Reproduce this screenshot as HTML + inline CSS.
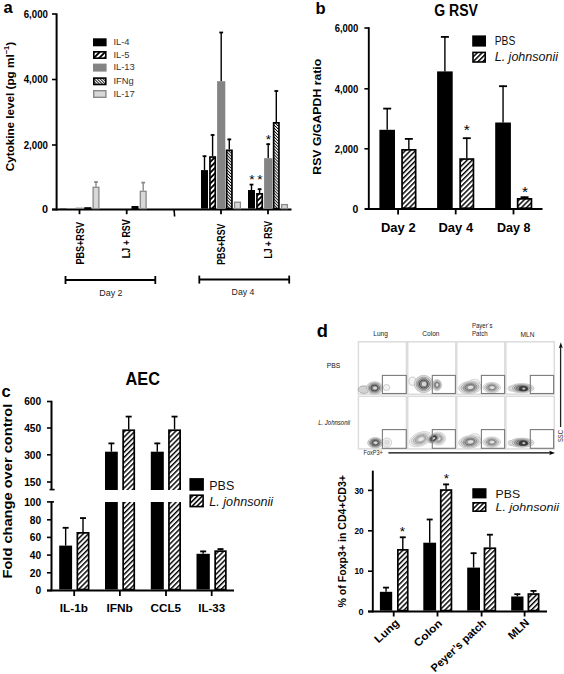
<!DOCTYPE html>
<html><head><meta charset="utf-8"><style>
html,body{margin:0;padding:0;background:#fff;width:564px;height:674px;overflow:hidden;position:relative;}
text{font-family:"Liberation Sans", sans-serif;}
</style></head><body>
<svg width="564" height="674" viewBox="0 0 564 674" style="position:absolute;left:0;top:0">
<defs>
<pattern id="hB" patternUnits="userSpaceOnUse" width="3.6" height="3.6" patternTransform="rotate(45)"><rect width="3.6" height="3.6" fill="#fff"/><rect x="0" y="0" width="1.45" height="3.6" fill="#000"/></pattern>
<pattern id="hA" patternUnits="userSpaceOnUse" width="3.8" height="3.8" patternTransform="rotate(45)"><rect width="3.8" height="3.8" fill="#fff"/><rect x="0" y="0" width="1.9" height="3.8" fill="#000"/></pattern>
<pattern id="hD" patternUnits="userSpaceOnUse" width="2.1" height="2.1" patternTransform="rotate(-45)"><rect width="2.1" height="2.1" fill="#fff"/><rect x="0" y="0" width="0.85" height="2.1" fill="#000"/></pattern>
<pattern id="hL" patternUnits="userSpaceOnUse" width="3.4" height="3.4" patternTransform="rotate(45)"><rect width="3.4" height="3.4" fill="#fff"/><rect x="0" y="0" width="1.5" height="3.4" fill="#000"/></pattern>
<filter id="bl" x="-20%" y="-20%" width="140%" height="140%"><feGaussianBlur stdDeviation="0.55"/></filter>
</defs>
<g font-family='"Liberation Sans", sans-serif'>
<text x="3.6" y="13.2" font-size="16.5" font-weight="bold" text-anchor="start" fill="#000" >a</text>
<line x1="56.6" y1="13.4" x2="56.6" y2="210.5" stroke="#000" stroke-width="2" />
<line x1="52" y1="14" x2="56.6" y2="14" stroke="#000" stroke-width="1.6" />
<text x="47.9" y="17.6" font-size="10.8" font-weight="bold" text-anchor="end" fill="#000" textLength="24.2" lengthAdjust="spacingAndGlyphs" >6,000</text>
<line x1="52" y1="79.5" x2="56.6" y2="79.5" stroke="#000" stroke-width="1.6" />
<text x="47.9" y="83.1" font-size="10.8" font-weight="bold" text-anchor="end" fill="#000" textLength="24.2" lengthAdjust="spacingAndGlyphs" >4,000</text>
<line x1="52" y1="145" x2="56.6" y2="145" stroke="#000" stroke-width="1.6" />
<text x="47.9" y="148.6" font-size="10.8" font-weight="bold" text-anchor="end" fill="#000" textLength="24.2" lengthAdjust="spacingAndGlyphs" >2,000</text>
<line x1="52" y1="209.5" x2="56.6" y2="209.5" stroke="#000" stroke-width="1.6" />
<text x="47.9" y="213.1" font-size="10.8" font-weight="bold" text-anchor="end" fill="#000" >0</text>
<text x="0" y="0" font-size="11.6" font-weight="bold" text-anchor="start" fill="#000" textLength="129.5" lengthAdjust="spacingAndGlyphs" transform="translate(13.8,171.3) rotate(-90)" >Cytokine level (pg ml<tspan font-size="7.5" dy="-4.5">−1</tspan><tspan dy="4.5">)</tspan></text>
<line x1="52" y1="209.6" x2="291.5" y2="209.6" stroke="#000" stroke-width="2" />
<rect x="59.5" y="208.3" width="7.0" height="0.29999999999998295" fill="#000" stroke="none" stroke-width="0" />
<rect x="75.6" y="207.6" width="8.200000000000003" height="1.0" fill="#848484" stroke="none" stroke-width="0" />
<rect x="85.14999999999999" y="208.04999999999998" width="5.3" height="0.5500000000000057" fill="url(#hD)" stroke="#000" stroke-width="1.7" />
<line x1="96.0" y1="186.7" x2="96.0" y2="181.5" stroke="#8a8a8a" stroke-width="1.4" />
<line x1="94.1" y1="182.1" x2="97.9" y2="182.1" stroke="#8a8a8a" stroke-width="1.8" />
<rect x="93.1" y="187.29999999999998" width="5.8" height="21.300000000000004" fill="#d8d8d8" stroke="#8a8a8a" stroke-width="1.3" />
<rect x="132.35" y="206.85" width="5.3" height="1.7499999999999942" fill="url(#hD)" stroke="#000" stroke-width="1.7" />
<line x1="143.2" y1="190.7" x2="143.2" y2="182.0" stroke="#8a8a8a" stroke-width="1.4" />
<line x1="141.29999999999998" y1="182.6" x2="145.1" y2="182.6" stroke="#8a8a8a" stroke-width="1.8" />
<rect x="140.29999999999998" y="191.29999999999998" width="5.8" height="17.300000000000004" fill="#d8d8d8" stroke="#8a8a8a" stroke-width="1.3" />
<line x1="204.5" y1="170.1" x2="204.5" y2="155.6" stroke="#000" stroke-width="1.4" />
<line x1="202.6" y1="156.2" x2="206.4" y2="156.2" stroke="#000" stroke-width="1.8" />
<rect x="201.0" y="170.1" width="7.0" height="38.5" fill="#000" stroke="none" stroke-width="0" />
<line x1="212.6" y1="156.2" x2="212.6" y2="134.4" stroke="#000" stroke-width="1.4" />
<line x1="210.7" y1="135.0" x2="214.5" y2="135.0" stroke="#000" stroke-width="1.8" />
<rect x="209.95" y="157.04999999999998" width="5.3" height="51.550000000000004" fill="url(#hA)" stroke="#000" stroke-width="1.7" />
<line x1="221.2" y1="81.2" x2="221.2" y2="31.9" stroke="#000" stroke-width="1.4" />
<line x1="219.29999999999998" y1="32.5" x2="223.1" y2="32.5" stroke="#000" stroke-width="1.8" />
<rect x="217.1" y="81.2" width="8.200000000000017" height="127.39999999999999" fill="#848484" stroke="none" stroke-width="0" />
<line x1="229.3" y1="149.5" x2="229.3" y2="138.8" stroke="#000" stroke-width="1.4" />
<line x1="227.4" y1="139.4" x2="231.20000000000002" y2="139.4" stroke="#000" stroke-width="1.8" />
<rect x="226.65" y="150.35" width="5.3" height="58.24999999999999" fill="url(#hD)" stroke="#000" stroke-width="1.7" />
<rect x="234.6" y="202.2" width="5.8" height="6.4" fill="#d8d8d8" stroke="#8a8a8a" stroke-width="1.3" />
<line x1="251.5" y1="190.0" x2="251.5" y2="184.0" stroke="#000" stroke-width="1.4" />
<line x1="249.6" y1="184.6" x2="253.4" y2="184.6" stroke="#000" stroke-width="1.8" />
<rect x="248.0" y="190.0" width="7.0" height="18.599999999999994" fill="#000" stroke="none" stroke-width="0" />
<line x1="259.6" y1="193.0" x2="259.6" y2="188.6" stroke="#000" stroke-width="1.4" />
<line x1="257.70000000000005" y1="189.2" x2="261.5" y2="189.2" stroke="#000" stroke-width="1.8" />
<rect x="256.95000000000005" y="193.85" width="5.3" height="14.749999999999995" fill="url(#hA)" stroke="#000" stroke-width="1.7" />
<line x1="268.20000000000005" y1="158.2" x2="268.20000000000005" y2="143.6" stroke="#000" stroke-width="1.4" />
<line x1="266.30000000000007" y1="144.2" x2="270.1" y2="144.2" stroke="#000" stroke-width="1.8" />
<rect x="264.1" y="158.2" width="8.199999999999989" height="50.400000000000006" fill="#848484" stroke="none" stroke-width="0" />
<line x1="276.3" y1="122.0" x2="276.3" y2="90.4" stroke="#000" stroke-width="1.4" />
<line x1="274.40000000000003" y1="91.00000000000001" x2="278.2" y2="91.00000000000001" stroke="#000" stroke-width="1.8" />
<rect x="273.65000000000003" y="122.85" width="5.3" height="85.75" fill="url(#hD)" stroke="#000" stroke-width="1.7" />
<rect x="281.6" y="204.6" width="5.8" height="3.9999999999999942" fill="#d8d8d8" stroke="#8a8a8a" stroke-width="1.3" />
<text x="251.8" y="184.26" font-size="13.5" font-weight="normal" text-anchor="middle" fill="#000" >*</text>
<text x="259.9" y="184.26" font-size="13.5" font-weight="normal" text-anchor="middle" fill="#000" >*</text>
<text x="268.5" y="143.86" font-size="13.5" font-weight="normal" text-anchor="middle" fill="#000" >*</text>
<line x1="79.5" y1="209.6" x2="79.5" y2="214.2" stroke="#000" stroke-width="1.8" />
<line x1="126.7" y1="209.6" x2="126.7" y2="214.2" stroke="#000" stroke-width="1.8" />
<line x1="221" y1="209.6" x2="221" y2="214.2" stroke="#000" stroke-width="1.8" />
<line x1="268" y1="209.6" x2="268" y2="214.2" stroke="#000" stroke-width="1.8" />
<line x1="174.1" y1="209.6" x2="174.6" y2="216.5" stroke="#000" stroke-width="1.6" />
<text x="0" y="0" font-size="10.8" font-weight="bold" text-anchor="end" fill="#000" textLength="42.6" lengthAdjust="spacingAndGlyphs" transform="translate(83.6,222) rotate(-90)" >PBS+RSV</text>
<text x="0" y="0" font-size="10.8" font-weight="bold" text-anchor="end" fill="#000" textLength="39" lengthAdjust="spacingAndGlyphs" transform="translate(130.4,219.2) rotate(-90)" >LJ + RSV</text>
<text x="0" y="0" font-size="10.8" font-weight="bold" text-anchor="end" fill="#000" textLength="41.2" lengthAdjust="spacingAndGlyphs" transform="translate(225.2,223.6) rotate(-90)" >PBS+RSV</text>
<text x="0" y="0" font-size="10.8" font-weight="bold" text-anchor="end" fill="#000" textLength="37.6" lengthAdjust="spacingAndGlyphs" transform="translate(271.9,221) rotate(-90)" >LJ + RSV</text>
<line x1="65.5" y1="280" x2="155.3" y2="280" stroke="#000" stroke-width="2" />
<line x1="65.5" y1="276" x2="65.5" y2="284" stroke="#000" stroke-width="1.8" />
<line x1="155.3" y1="276" x2="155.3" y2="284" stroke="#000" stroke-width="1.8" />
<line x1="199.3" y1="279.6" x2="289.2" y2="279.6" stroke="#000" stroke-width="2" />
<line x1="199.3" y1="275.6" x2="199.3" y2="283.6" stroke="#000" stroke-width="1.8" />
<line x1="289.2" y1="275.6" x2="289.2" y2="283.6" stroke="#000" stroke-width="1.8" />
<text x="99.2" y="296" font-size="9.9" font-weight="normal" text-anchor="start" fill="#222" textLength="23.4" lengthAdjust="spacingAndGlyphs" >Day 2</text>
<text x="231.6" y="295" font-size="9.9" font-weight="normal" text-anchor="start" fill="#222" textLength="22.8" lengthAdjust="spacingAndGlyphs" >Day 4</text>
<rect x="93" y="38.3" width="13.6" height="8" fill="#000" stroke="none" stroke-width="0" />
<text x="113.4" y="45.099999999999994" font-size="9.4" font-weight="normal" text-anchor="start" fill="#333" >IL-4</text>
<rect x="93.8" y="51.8" width="12" height="6.4" fill="url(#hA)" stroke="#000" stroke-width="1.6" />
<text x="113.4" y="57.8" font-size="9.4" font-weight="normal" text-anchor="start" fill="#333" >IL-5</text>
<rect x="93" y="63.6" width="13.6" height="8" fill="#848484" stroke="none" stroke-width="0" />
<text x="113.4" y="70.4" font-size="9.4" font-weight="normal" text-anchor="start" fill="#333" >IL-13</text>
<rect x="93.8" y="78.1" width="12" height="6.4" fill="url(#hD)" stroke="#000" stroke-width="1.6" />
<text x="113.4" y="84.1" font-size="9.4" font-weight="normal" text-anchor="start" fill="#333" >IFNg</text>
<rect x="93.7" y="90.7" width="12.2" height="6.6" fill="#d8d8d8" stroke="#8a8a8a" stroke-width="1.4" />
<text x="113.4" y="96.8" font-size="9.4" font-weight="normal" text-anchor="start" fill="#333" >IL-17</text>
<text x="315.4" y="13.8" font-size="16.5" font-weight="bold" text-anchor="start" fill="#000" >b</text>
<text x="434.2" y="15.9" font-size="16" font-weight="bold" text-anchor="start" fill="#000" textLength="43.7" lengthAdjust="spacingAndGlyphs" >G RSV</text>
<line x1="368.8" y1="27.2" x2="368.8" y2="210" stroke="#000" stroke-width="1.9" />
<line x1="364.4" y1="28" x2="368.8" y2="28" stroke="#000" stroke-width="1.6" />
<text x="358.4" y="31.8" font-size="10.4" font-weight="bold" text-anchor="end" fill="#000" textLength="23.7" lengthAdjust="spacingAndGlyphs" >6,000</text>
<line x1="364.4" y1="88.8" x2="368.8" y2="88.8" stroke="#000" stroke-width="1.6" />
<text x="358.4" y="92.6" font-size="10.4" font-weight="bold" text-anchor="end" fill="#000" textLength="23.7" lengthAdjust="spacingAndGlyphs" >4,000</text>
<line x1="364.4" y1="148.8" x2="368.8" y2="148.8" stroke="#000" stroke-width="1.6" />
<text x="358.4" y="152.60000000000002" font-size="10.4" font-weight="bold" text-anchor="end" fill="#000" textLength="23.7" lengthAdjust="spacingAndGlyphs" >2,000</text>
<line x1="364.4" y1="209" x2="368.8" y2="209" stroke="#000" stroke-width="1.6" />
<text x="358.4" y="212.8" font-size="10.4" font-weight="bold" text-anchor="end" fill="#000" >0</text>
<text x="0" y="0" font-size="11.2" font-weight="bold" text-anchor="start" fill="#000" textLength="116" lengthAdjust="spacingAndGlyphs" transform="translate(321.3,174.7) rotate(-90)" >RSV G/GAPDH ratio</text>
<line x1="365" y1="209" x2="542.5" y2="209" stroke="#000" stroke-width="2" />
<line x1="398.1" y1="209" x2="398.1" y2="214.4" stroke="#000" stroke-width="1.8" />
<line x1="455.7" y1="209" x2="455.7" y2="214.4" stroke="#000" stroke-width="1.8" />
<line x1="513.5" y1="209" x2="513.5" y2="214.4" stroke="#000" stroke-width="1.8" />
<line x1="387.2" y1="129.8" x2="387.2" y2="108.0" stroke="#000" stroke-width="1.4" />
<line x1="383.2" y1="108.60000000000001" x2="391.2" y2="108.60000000000001" stroke="#000" stroke-width="1.8" />
<rect x="379.4" y="129.8" width="15.600000000000023" height="78.39999999999998" fill="#000" stroke="none" stroke-width="0" />
<line x1="408.85" y1="149.0" x2="408.85" y2="138.3" stroke="#000" stroke-width="1.4" />
<line x1="404.85" y1="138.9" x2="412.85" y2="138.9" stroke="#000" stroke-width="1.8" />
<rect x="402.05" y="149.85" width="13.600000000000012" height="58.34999999999999" fill="url(#hB)" stroke="#000" stroke-width="1.7" />
<line x1="444.9" y1="71.4" x2="444.9" y2="36.3" stroke="#000" stroke-width="1.4" />
<line x1="440.9" y1="36.9" x2="448.9" y2="36.9" stroke="#000" stroke-width="1.8" />
<rect x="437.1" y="71.4" width="15.599999999999966" height="136.79999999999998" fill="#000" stroke="none" stroke-width="0" />
<line x1="466.8" y1="158.2" x2="466.8" y2="137.6" stroke="#000" stroke-width="1.4" />
<line x1="462.8" y1="138.2" x2="470.8" y2="138.2" stroke="#000" stroke-width="1.8" />
<rect x="460.15000000000003" y="159.04999999999998" width="13.3" height="49.15" fill="url(#hB)" stroke="#000" stroke-width="1.7" />
<line x1="503.04999999999995" y1="122.5" x2="503.04999999999995" y2="85.6" stroke="#000" stroke-width="1.4" />
<line x1="499.04999999999995" y1="86.2" x2="507.04999999999995" y2="86.2" stroke="#000" stroke-width="1.8" />
<rect x="495.2" y="122.5" width="15.699999999999989" height="85.69999999999999" fill="#000" stroke="none" stroke-width="0" />
<line x1="524.55" y1="198.0" x2="524.55" y2="196.6" stroke="#000" stroke-width="1.4" />
<line x1="520.55" y1="197.2" x2="528.55" y2="197.2" stroke="#000" stroke-width="1.8" />
<rect x="517.65" y="198.85" width="13.8" height="9.349999999999989" fill="url(#hB)" stroke="#000" stroke-width="1.7" />
<text x="466.8" y="134.57" font-size="15.5" font-weight="normal" text-anchor="middle" fill="#000" >*</text>
<text x="525.1" y="196.57" font-size="15.5" font-weight="normal" text-anchor="middle" fill="#000" >*</text>
<text x="381.0" y="232.3" font-size="13.4" font-weight="bold" text-anchor="start" fill="#000" textLength="34.6" lengthAdjust="spacingAndGlyphs" >Day 2</text>
<text x="438.5" y="232.3" font-size="13.4" font-weight="bold" text-anchor="start" fill="#000" textLength="34.6" lengthAdjust="spacingAndGlyphs" >Day 4</text>
<text x="497.0" y="232.3" font-size="13.4" font-weight="bold" text-anchor="start" fill="#000" textLength="33.4" lengthAdjust="spacingAndGlyphs" >Day 8</text>
<rect x="472.2" y="35.4" width="13.8" height="11.2" fill="#000" stroke="none" stroke-width="0" />
<rect x="473.0" y="52.4" width="12.2" height="9.6" fill="url(#hL)" stroke="#000" stroke-width="1.6" />
<text x="494.7" y="45.4" font-size="12" font-weight="normal" text-anchor="start" fill="#111" textLength="20.6" lengthAdjust="spacingAndGlyphs" >PBS</text>
<text x="494.7" y="61.0" font-size="12" font-weight="normal" text-anchor="start" fill="#111" font-style="italic" textLength="63.3" lengthAdjust="spacingAndGlyphs" >L. johnsonii</text>
<text x="1.5" y="396.6" font-size="16.5" font-weight="bold" text-anchor="start" fill="#000" >c</text>
<text x="125.5" y="385.2" font-size="18" font-weight="bold" text-anchor="start" fill="#000" textLength="34.4" lengthAdjust="spacingAndGlyphs" >AEC</text>
<line x1="51.5" y1="400.8" x2="51.5" y2="490.0" stroke="#000" stroke-width="2" />
<line x1="49.6" y1="489.6" x2="54.6" y2="489.6" stroke="#000" stroke-width="1.6" />
<line x1="51.5" y1="501.2" x2="51.5" y2="591.2" stroke="#000" stroke-width="2" />
<line x1="47" y1="501.9" x2="54" y2="501.9" stroke="#000" stroke-width="1.6" />
<line x1="47" y1="401.5" x2="51.5" y2="401.5" stroke="#000" stroke-width="1.6" />
<text x="41.2" y="405.2" font-size="10.2" font-weight="bold" text-anchor="end" fill="#000" >600</text>
<line x1="47" y1="428" x2="51.5" y2="428" stroke="#000" stroke-width="1.6" />
<text x="41.2" y="431.7" font-size="10.2" font-weight="bold" text-anchor="end" fill="#000" >450</text>
<line x1="47" y1="454.8" x2="51.5" y2="454.8" stroke="#000" stroke-width="1.6" />
<text x="41.2" y="458.5" font-size="10.2" font-weight="bold" text-anchor="end" fill="#000" >300</text>
<line x1="47" y1="482" x2="51.5" y2="482" stroke="#000" stroke-width="1.6" />
<text x="41.2" y="485.7" font-size="10.2" font-weight="bold" text-anchor="end" fill="#000" >150</text>
<text x="41.2" y="505.59999999999997" font-size="10.2" font-weight="bold" text-anchor="end" fill="#000" >100</text>
<line x1="47" y1="519.8" x2="51.5" y2="519.8" stroke="#000" stroke-width="1.6" />
<text x="41.2" y="523.5" font-size="10.2" font-weight="bold" text-anchor="end" fill="#000" >80</text>
<line x1="47" y1="537.4" x2="51.5" y2="537.4" stroke="#000" stroke-width="1.6" />
<text x="41.2" y="541.1" font-size="10.2" font-weight="bold" text-anchor="end" fill="#000" >60</text>
<line x1="47" y1="555.1" x2="51.5" y2="555.1" stroke="#000" stroke-width="1.6" />
<text x="41.2" y="558.8000000000001" font-size="10.2" font-weight="bold" text-anchor="end" fill="#000" >40</text>
<line x1="47" y1="572.8" x2="51.5" y2="572.8" stroke="#000" stroke-width="1.6" />
<text x="41.2" y="576.5" font-size="10.2" font-weight="bold" text-anchor="end" fill="#000" >20</text>
<line x1="47" y1="590.5" x2="51.5" y2="590.5" stroke="#000" stroke-width="1.6" />
<text x="41.2" y="594.2" font-size="10.2" font-weight="bold" text-anchor="end" fill="#000" >0</text>
<text x="0" y="0" font-size="12.2" font-weight="bold" text-anchor="start" fill="#000" textLength="174.7" lengthAdjust="spacingAndGlyphs" transform="translate(12.3,578.5) rotate(-90)" >Fold change over control</text>
<line x1="47" y1="590.4" x2="234" y2="590.4" stroke="#000" stroke-width="2" />
<line x1="74.2" y1="590.4" x2="74.2" y2="596" stroke="#000" stroke-width="1.8" />
<line x1="119.9" y1="590.4" x2="119.9" y2="596" stroke="#000" stroke-width="1.8" />
<line x1="166.0" y1="590.4" x2="166.0" y2="596" stroke="#000" stroke-width="1.8" />
<line x1="211.7" y1="590.4" x2="211.7" y2="596" stroke="#000" stroke-width="1.8" />
<line x1="65.65" y1="545.6" x2="65.65" y2="527.2" stroke="#000" stroke-width="1.4" />
<line x1="62.650000000000006" y1="527.8000000000001" x2="68.65" y2="527.8000000000001" stroke="#000" stroke-width="1.8" />
<rect x="59.2" y="545.6" width="12.899999999999991" height="43.89999999999998" fill="#000" stroke="none" stroke-width="0" />
<line x1="83.0" y1="532.0" x2="83.0" y2="517.5" stroke="#000" stroke-width="1.4" />
<line x1="80.0" y1="518.1" x2="86.0" y2="518.1" stroke="#000" stroke-width="1.8" />
<rect x="77.35" y="532.85" width="11.3" height="56.65" fill="url(#hB)" stroke="#000" stroke-width="1.7" />
<line x1="111.4" y1="451.7" x2="111.4" y2="442.8" stroke="#000" stroke-width="1.4" />
<line x1="108.4" y1="443.4" x2="114.4" y2="443.4" stroke="#000" stroke-width="1.8" />
<rect x="105.0" y="451.7" width="12.799999999999997" height="137.8" fill="#000" stroke="none" stroke-width="0" />
<rect x="104.0" y="490.0" width="14.799999999999997" height="12.0" fill="#fff" stroke="none" stroke-width="0" />
<line x1="128.7" y1="429.4" x2="128.7" y2="416.0" stroke="#000" stroke-width="1.4" />
<line x1="125.69999999999999" y1="416.59999999999997" x2="131.7" y2="416.59999999999997" stroke="#000" stroke-width="1.8" />
<rect x="123.14999999999999" y="430.25" width="11.099999999999998" height="159.25000000000003" fill="url(#hB)" stroke="#000" stroke-width="1.7" />
<rect x="121.3" y="490.0" width="14.799999999999997" height="12.0" fill="#fff" stroke="none" stroke-width="0" />
<line x1="157.3" y1="451.7" x2="157.3" y2="442.8" stroke="#000" stroke-width="1.4" />
<line x1="154.3" y1="443.4" x2="160.3" y2="443.4" stroke="#000" stroke-width="1.8" />
<rect x="150.8" y="451.7" width="13.0" height="137.8" fill="#000" stroke="none" stroke-width="0" />
<rect x="149.8" y="490.0" width="15.0" height="12.0" fill="#fff" stroke="none" stroke-width="0" />
<line x1="174.55" y1="429.4" x2="174.55" y2="416.0" stroke="#000" stroke-width="1.4" />
<line x1="171.55" y1="416.59999999999997" x2="177.55" y2="416.59999999999997" stroke="#000" stroke-width="1.8" />
<rect x="168.95" y="430.25" width="11.200000000000006" height="159.25000000000003" fill="url(#hB)" stroke="#000" stroke-width="1.7" />
<rect x="167.1" y="490.0" width="14.900000000000006" height="12.0" fill="#fff" stroke="none" stroke-width="0" />
<line x1="203.15" y1="553.8" x2="203.15" y2="550.8" stroke="#000" stroke-width="1.4" />
<line x1="200.15" y1="551.4" x2="206.15" y2="551.4" stroke="#000" stroke-width="1.8" />
<rect x="196.5" y="553.8" width="13.300000000000011" height="35.700000000000045" fill="#000" stroke="none" stroke-width="0" />
<line x1="220.5" y1="550.3" x2="220.5" y2="548.5" stroke="#000" stroke-width="1.4" />
<line x1="217.5" y1="549.1" x2="223.5" y2="549.1" stroke="#000" stroke-width="1.8" />
<rect x="215.15" y="551.15" width="10.699999999999978" height="38.350000000000044" fill="url(#hB)" stroke="#000" stroke-width="1.7" />
<text x="59.8" y="612.4" font-size="11.3" font-weight="bold" text-anchor="start" fill="#000" textLength="28.1" lengthAdjust="spacingAndGlyphs" >IL-1b</text>
<text x="106.4" y="612.4" font-size="11.3" font-weight="bold" text-anchor="start" fill="#000" textLength="26.4" lengthAdjust="spacingAndGlyphs" >IFNb</text>
<text x="150.6" y="612.4" font-size="11.3" font-weight="bold" text-anchor="start" fill="#000" textLength="30.5" lengthAdjust="spacingAndGlyphs" >CCL5</text>
<text x="198.2" y="612.4" font-size="11.3" font-weight="bold" text-anchor="start" fill="#000" textLength="26.9" lengthAdjust="spacingAndGlyphs" >IL-33</text>
<rect x="189.4" y="478.1" width="14.5" height="12.6" fill="#000" stroke="none" stroke-width="0" />
<rect x="190.2" y="495.2" width="12.9" height="11.4" fill="url(#hL)" stroke="#000" stroke-width="1.6" />
<text x="209.3" y="489.8" font-size="12" font-weight="normal" text-anchor="start" fill="#111" textLength="24.9" lengthAdjust="spacingAndGlyphs" >PBS</text>
<text x="209.3" y="505.8" font-size="12" font-weight="normal" text-anchor="start" fill="#111" font-style="italic" textLength="63.8" lengthAdjust="spacingAndGlyphs" >L. johnsonii</text>
<text x="316.8" y="337.2" font-size="18.3" font-weight="bold" text-anchor="start" fill="#000" >d</text>
<rect x="358.4" y="341.8" width="48.0" height="52.39999999999998" fill="#fff" stroke="#dcdcdc" stroke-width="1.5" />
<rect x="358.4" y="396.3" width="48.0" height="52.599999999999966" fill="#fff" stroke="#dcdcdc" stroke-width="1.5" />
<rect x="407.7" y="341.8" width="48.10000000000002" height="52.39999999999998" fill="#fff" stroke="#dcdcdc" stroke-width="1.5" />
<rect x="407.7" y="396.3" width="48.10000000000002" height="52.599999999999966" fill="#fff" stroke="#dcdcdc" stroke-width="1.5" />
<rect x="456.8" y="341.8" width="48.0" height="52.39999999999998" fill="#fff" stroke="#dcdcdc" stroke-width="1.5" />
<rect x="456.8" y="396.3" width="48.0" height="52.599999999999966" fill="#fff" stroke="#dcdcdc" stroke-width="1.5" />
<rect x="505.9" y="341.8" width="48.39999999999998" height="52.39999999999998" fill="#fff" stroke="#dcdcdc" stroke-width="1.5" />
<rect x="505.9" y="396.3" width="48.39999999999998" height="52.599999999999966" fill="#fff" stroke="#dcdcdc" stroke-width="1.5" />
<g filter="url(#bl)"><ellipse cx="363.8" cy="389.6" rx="5.6" ry="3.8" fill="#d2d2d2" fill-opacity="1" stroke="#9a9a9a" stroke-width="0.7"/>
<ellipse cx="386.5" cy="387.5" rx="3.2" ry="3.0" fill="#f4f4f4" fill-opacity="1" stroke="#b8b8b8" stroke-width="0.7"/>
<ellipse cx="374.6" cy="388.0" rx="8.2" ry="6.2" fill="#e1e1e1" fill-opacity="1" stroke="#aaaaaa" stroke-width="0.7"/>
<ellipse cx="374.6" cy="388.0" rx="6.56" ry="4.960000000000001" fill="#c8c8c8" fill-opacity="1" stroke="#8c8c8c" stroke-width="0.7"/>
<ellipse cx="374.6" cy="388.0" rx="5.084" ry="3.844" fill="#a5a5a5" fill-opacity="1" stroke="#646464" stroke-width="0.8"/>
<ellipse cx="374.6" cy="388.0" rx="3.69" ry="2.79" fill="#828282" fill-opacity="1" stroke="#464646" stroke-width="0.9"/>
<ellipse cx="375.01000000000005" cy="388.0" rx="1.9679999999999997" ry="1.612" fill="#d7d7d7" fill-opacity="1" stroke="none" stroke-width="0"/>
<ellipse cx="412.4" cy="381.2" rx="3.6" ry="4.2" fill="#f4f4f4" fill-opacity="1" stroke="#b8b8b8" stroke-width="0.7"/>
<ellipse cx="437" cy="385" rx="4.6" ry="5.6" fill="#e8e8e8" fill-opacity="1" stroke="#bfbfbf" stroke-width="0.7"/>
<ellipse cx="437" cy="385" rx="3.6799999999999997" ry="4.4799999999999995" fill="#d5d5d5" fill-opacity="1" stroke="#a8a8a8" stroke-width="0.7"/>
<ellipse cx="437" cy="385" rx="2.852" ry="3.472" fill="#bbbbbb" fill-opacity="1" stroke="#8a8a8a" stroke-width="0.8"/>
<ellipse cx="437" cy="385" rx="2.07" ry="2.52" fill="#a1a1a1" fill-opacity="1" stroke="#747474" stroke-width="0.9"/>
<ellipse cx="437.23" cy="385" rx="1.1039999999999999" ry="1.456" fill="#e1e1e1" fill-opacity="1" stroke="none" stroke-width="0"/>
<ellipse cx="423.6" cy="384.0" rx="9.3" ry="8.6" fill="#e1e1e1" fill-opacity="1" stroke="#aaaaaa" stroke-width="0.7"/>
<ellipse cx="423.6" cy="384.0" rx="7.440000000000001" ry="6.88" fill="#c8c8c8" fill-opacity="1" stroke="#8c8c8c" stroke-width="0.7"/>
<ellipse cx="423.6" cy="384.0" rx="5.766" ry="5.332" fill="#a5a5a5" fill-opacity="1" stroke="#646464" stroke-width="0.8"/>
<ellipse cx="423.6" cy="384.0" rx="4.1850000000000005" ry="3.87" fill="#828282" fill-opacity="1" stroke="#464646" stroke-width="0.9"/>
<ellipse cx="424.065" cy="384.0" rx="2.232" ry="2.2359999999999998" fill="#d7d7d7" fill-opacity="1" stroke="none" stroke-width="0"/>
<ellipse cx="474.5" cy="382.5" rx="5.5" ry="3.2" fill="#f4f4f4" fill-opacity="1" stroke="#c4c4c4" stroke-width="0.7"/>
<ellipse cx="470.0" cy="387.4" rx="11.4" ry="6.2" fill="#e7e7e7" fill-opacity="1" stroke="#bbbbbb" stroke-width="0.7" transform="rotate(-6,470.0,387.4)"/>
<ellipse cx="470.0" cy="387.4" rx="9.120000000000001" ry="4.960000000000001" fill="#d3d3d3" fill-opacity="1" stroke="#a3a3a3" stroke-width="0.7" transform="rotate(-6,470.0,387.4)"/>
<ellipse cx="470.0" cy="387.4" rx="7.0680000000000005" ry="3.844" fill="#b7b7b7" fill-opacity="1" stroke="#838383" stroke-width="0.8" transform="rotate(-6,470.0,387.4)"/>
<ellipse cx="470.0" cy="387.4" rx="5.13" ry="2.79" fill="#9b9b9b" fill-opacity="1" stroke="#6b6b6b" stroke-width="0.9" transform="rotate(-6,470.0,387.4)"/>
<ellipse cx="470.57" cy="387.4" rx="2.7359999999999998" ry="1.612" fill="#dfdfdf" fill-opacity="1" stroke="none" stroke-width="0" transform="rotate(-6,470.57,387.4)"/>
<ellipse cx="491.7" cy="387.6" rx="8.8" ry="5.2" fill="#eaeaea" fill-opacity="1" stroke="#c3c3c3" stroke-width="0.7"/>
<ellipse cx="491.7" cy="387.6" rx="7.040000000000001" ry="4.16" fill="#d8d8d8" fill-opacity="1" stroke="#aeaeae" stroke-width="0.7"/>
<ellipse cx="491.7" cy="387.6" rx="5.456" ry="3.224" fill="#c0c0c0" fill-opacity="1" stroke="#929292" stroke-width="0.8"/>
<ellipse cx="491.7" cy="387.6" rx="3.9600000000000004" ry="2.3400000000000003" fill="#a7a7a7" fill-opacity="1" stroke="#7d7d7d" stroke-width="0.9"/>
<ellipse cx="492.14" cy="387.6" rx="2.112" ry="1.352" fill="#e3e3e3" fill-opacity="1" stroke="none" stroke-width="0"/>
<ellipse cx="511" cy="388.5" rx="3" ry="2.6" fill="#f0f0f0" fill-opacity="1" stroke="#b4b4b4" stroke-width="0.6"/>
<ellipse cx="521.8" cy="388.2" rx="12.2" ry="4.6" fill="#e5e5e5" fill-opacity="1" stroke="#b6b6b6" stroke-width="0.7"/>
<ellipse cx="521.8" cy="388.2" rx="9.76" ry="3.6799999999999997" fill="#d0d0d0" fill-opacity="1" stroke="#9d9d9d" stroke-width="0.7"/>
<ellipse cx="521.8" cy="388.2" rx="7.563999999999999" ry="2.852" fill="#b2b2b2" fill-opacity="1" stroke="#7b7b7b" stroke-width="0.8"/>
<ellipse cx="521.8" cy="388.2" rx="5.49" ry="2.07" fill="#949494" fill-opacity="1" stroke="#616161" stroke-width="0.9"/>
<ellipse cx="522.41" cy="388.2" rx="2.928" ry="1.196" fill="#dddddd" fill-opacity="1" stroke="none" stroke-width="0"/>
<ellipse cx="523.4" cy="388.7" rx="4.6" ry="2.6" fill="#3a3a3a" fill-opacity="1" stroke="none" stroke-width="0"/>
<ellipse cx="523.8" cy="388.7" rx="1.6" ry="1.1" fill="#bbb" fill-opacity="1" stroke="none" stroke-width="0"/>
<ellipse cx="387" cy="442.5" rx="4.6" ry="4.6" fill="#f4f4f4" fill-opacity="1" stroke="#c0c0c0" stroke-width="0.7"/>
<ellipse cx="387" cy="442.5" rx="3" ry="3" fill="#dcdcdc" fill-opacity="1" stroke="none" stroke-width="0"/>
<ellipse cx="375.3" cy="442.8" rx="7.6" ry="5.2" fill="#e1e1e1" fill-opacity="1" stroke="#aaaaaa" stroke-width="0.7"/>
<ellipse cx="375.3" cy="442.8" rx="6.08" ry="4.16" fill="#c8c8c8" fill-opacity="1" stroke="#8c8c8c" stroke-width="0.7"/>
<ellipse cx="375.3" cy="442.8" rx="4.712" ry="3.224" fill="#a5a5a5" fill-opacity="1" stroke="#646464" stroke-width="0.8"/>
<ellipse cx="375.3" cy="442.8" rx="3.42" ry="2.3400000000000003" fill="#828282" fill-opacity="1" stroke="#464646" stroke-width="0.9"/>
<ellipse cx="375.68" cy="442.8" rx="1.8239999999999998" ry="1.352" fill="#d7d7d7" fill-opacity="1" stroke="none" stroke-width="0"/>
<ellipse cx="438.2" cy="438.6" rx="7.5" ry="6.6" fill="#ededed" fill-opacity="1" stroke="#cccccc" stroke-width="0.7"/>
<ellipse cx="438.2" cy="438.6" rx="6.0" ry="5.28" fill="#dedede" fill-opacity="1" stroke="#bababa" stroke-width="0.7"/>
<ellipse cx="438.2" cy="438.6" rx="4.65" ry="4.092" fill="#c9c9c9" fill-opacity="1" stroke="#a2a2a2" stroke-width="0.8"/>
<ellipse cx="438.2" cy="438.6" rx="3.375" ry="2.9699999999999998" fill="#b4b4b4" fill-opacity="1" stroke="#909090" stroke-width="0.9"/>
<ellipse cx="438.575" cy="438.6" rx="1.7999999999999998" ry="1.716" fill="#e7e7e7" fill-opacity="1" stroke="none" stroke-width="0"/>
<ellipse cx="420.5" cy="439.2" rx="11.8" ry="6.8" fill="#eeeeee" fill-opacity="1" stroke="#d0d0d0" stroke-width="0.7" transform="rotate(-22,420.5,439.2)"/>
<ellipse cx="420.5" cy="439.2" rx="9.440000000000001" ry="5.44" fill="#e0e0e0" fill-opacity="1" stroke="#bfbfbf" stroke-width="0.7" transform="rotate(-22,420.5,439.2)"/>
<ellipse cx="420.5" cy="439.2" rx="7.316000000000001" ry="4.216" fill="#cdcdcd" fill-opacity="1" stroke="#a9a9a9" stroke-width="0.8" transform="rotate(-22,420.5,439.2)"/>
<ellipse cx="420.5" cy="439.2" rx="5.3100000000000005" ry="3.06" fill="#bababa" fill-opacity="1" stroke="#999999" stroke-width="0.9" transform="rotate(-22,420.5,439.2)"/>
<ellipse cx="421.09" cy="439.2" rx="2.832" ry="1.768" fill="#e9e9e9" fill-opacity="1" stroke="none" stroke-width="0" transform="rotate(-22,421.09,439.2)"/>
<ellipse cx="433.5" cy="438.4" rx="6.2" ry="3.8" fill="#dedede" fill-opacity="1" stroke="#a1a1a1" stroke-width="0.7" transform="rotate(-30,433.5,438.4)"/>
<ellipse cx="433.5" cy="438.4" rx="4.960000000000001" ry="3.04" fill="#c2c2c2" fill-opacity="1" stroke="#808080" stroke-width="0.7" transform="rotate(-30,433.5,438.4)"/>
<ellipse cx="433.5" cy="438.4" rx="3.844" ry="2.356" fill="#9c9c9c" fill-opacity="1" stroke="#545454" stroke-width="0.8" transform="rotate(-30,433.5,438.4)"/>
<ellipse cx="433.5" cy="438.4" rx="2.79" ry="1.71" fill="#757575" fill-opacity="1" stroke="#333333" stroke-width="0.9" transform="rotate(-30,433.5,438.4)"/>
<ellipse cx="433.81" cy="438.4" rx="1.488" ry="0.988" fill="#d3d3d3" fill-opacity="1" stroke="none" stroke-width="0" transform="rotate(-30,433.81,438.4)"/>
<ellipse cx="474.5" cy="437.0" rx="5.5" ry="3.2" fill="#f4f4f4" fill-opacity="1" stroke="#c4c4c4" stroke-width="0.7"/>
<ellipse cx="470.0" cy="441.9" rx="11.4" ry="6.2" fill="#e7e7e7" fill-opacity="1" stroke="#bbbbbb" stroke-width="0.7" transform="rotate(-6,470.0,441.9)"/>
<ellipse cx="470.0" cy="441.9" rx="9.120000000000001" ry="4.960000000000001" fill="#d3d3d3" fill-opacity="1" stroke="#a3a3a3" stroke-width="0.7" transform="rotate(-6,470.0,441.9)"/>
<ellipse cx="470.0" cy="441.9" rx="7.0680000000000005" ry="3.844" fill="#b7b7b7" fill-opacity="1" stroke="#838383" stroke-width="0.8" transform="rotate(-6,470.0,441.9)"/>
<ellipse cx="470.0" cy="441.9" rx="5.13" ry="2.79" fill="#9b9b9b" fill-opacity="1" stroke="#6b6b6b" stroke-width="0.9" transform="rotate(-6,470.0,441.9)"/>
<ellipse cx="470.57" cy="441.9" rx="2.7359999999999998" ry="1.612" fill="#dfdfdf" fill-opacity="1" stroke="none" stroke-width="0" transform="rotate(-6,470.57,441.9)"/>
<ellipse cx="491.7" cy="442.1" rx="8.8" ry="5.2" fill="#eaeaea" fill-opacity="1" stroke="#c3c3c3" stroke-width="0.7"/>
<ellipse cx="491.7" cy="442.1" rx="7.040000000000001" ry="4.16" fill="#d8d8d8" fill-opacity="1" stroke="#aeaeae" stroke-width="0.7"/>
<ellipse cx="491.7" cy="442.1" rx="5.456" ry="3.224" fill="#c0c0c0" fill-opacity="1" stroke="#929292" stroke-width="0.8"/>
<ellipse cx="491.7" cy="442.1" rx="3.9600000000000004" ry="2.3400000000000003" fill="#a7a7a7" fill-opacity="1" stroke="#7d7d7d" stroke-width="0.9"/>
<ellipse cx="492.14" cy="442.1" rx="2.112" ry="1.352" fill="#e3e3e3" fill-opacity="1" stroke="none" stroke-width="0"/>
<ellipse cx="511" cy="443.0" rx="3" ry="2.6" fill="#f0f0f0" fill-opacity="1" stroke="#b4b4b4" stroke-width="0.6"/>
<ellipse cx="521.8" cy="442.7" rx="12.2" ry="4.6" fill="#e5e5e5" fill-opacity="1" stroke="#b6b6b6" stroke-width="0.7"/>
<ellipse cx="521.8" cy="442.7" rx="9.76" ry="3.6799999999999997" fill="#d0d0d0" fill-opacity="1" stroke="#9d9d9d" stroke-width="0.7"/>
<ellipse cx="521.8" cy="442.7" rx="7.563999999999999" ry="2.852" fill="#b2b2b2" fill-opacity="1" stroke="#7b7b7b" stroke-width="0.8"/>
<ellipse cx="521.8" cy="442.7" rx="5.49" ry="2.07" fill="#949494" fill-opacity="1" stroke="#616161" stroke-width="0.9"/>
<ellipse cx="522.41" cy="442.7" rx="2.928" ry="1.196" fill="#dddddd" fill-opacity="1" stroke="none" stroke-width="0"/>
<ellipse cx="523.4" cy="443.2" rx="4.6" ry="2.6" fill="#3a3a3a" fill-opacity="1" stroke="none" stroke-width="0"/>
<ellipse cx="523.8" cy="443.2" rx="1.6" ry="1.1" fill="#bbb" fill-opacity="1" stroke="none" stroke-width="0"/></g>
<rect x="382.4" y="375.4" width="23.900000000000034" height="18.100000000000023" fill="none" stroke="#7a7a7a" stroke-width="1.1" />
<rect x="382.4" y="429.6" width="23.900000000000034" height="18.69999999999999" fill="none" stroke="#7a7a7a" stroke-width="1.1" />
<rect x="432.3" y="375.4" width="23.099999999999966" height="18.100000000000023" fill="none" stroke="#7a7a7a" stroke-width="1.1" />
<rect x="432.3" y="429.6" width="23.099999999999966" height="18.69999999999999" fill="none" stroke="#7a7a7a" stroke-width="1.1" />
<rect x="481.4" y="375.4" width="23.200000000000045" height="18.100000000000023" fill="none" stroke="#7a7a7a" stroke-width="1.1" />
<rect x="481.4" y="429.6" width="23.200000000000045" height="18.69999999999999" fill="none" stroke="#7a7a7a" stroke-width="1.1" />
<rect x="530.3" y="375.4" width="23.300000000000068" height="18.100000000000023" fill="none" stroke="#7a7a7a" stroke-width="1.1" />
<rect x="530.3" y="429.6" width="23.300000000000068" height="18.69999999999999" fill="none" stroke="#7a7a7a" stroke-width="1.1" />
<text x="380.6" y="336.2" font-size="6.6" font-weight="normal" text-anchor="middle" fill="#1a1a1a" >Lung</text>
<text x="430.9" y="336.2" font-size="6.6" font-weight="normal" text-anchor="middle" fill="#1a1a1a" >Colon</text>
<text x="472.0" y="327.8" font-size="6.6" font-weight="normal" text-anchor="start" fill="#1a1a1a" textLength="20.6" lengthAdjust="spacingAndGlyphs" >Payer´s</text>
<text x="472.0" y="336.1" font-size="6.6" font-weight="normal" text-anchor="start" fill="#1a1a1a" textLength="15.6" lengthAdjust="spacingAndGlyphs" >Patch</text>
<text x="527.5" y="336.5" font-size="6.6" font-weight="normal" text-anchor="middle" fill="#1a1a1a" >MLN</text>
<text x="333.5" y="367.9" font-size="6.8" font-weight="normal" text-anchor="middle" fill="#111" >PBS</text>
<text x="318.2" y="425.0" font-size="6.8" font-weight="normal" text-anchor="start" fill="#111" font-style="italic" textLength="32" lengthAdjust="spacingAndGlyphs" >L. Johnsonii</text>
<text x="363.5" y="454.9" font-size="6.6" font-weight="normal" text-anchor="start" fill="#222" textLength="19.3" lengthAdjust="spacingAndGlyphs" >FoxP3+</text>
<line x1="388.4" y1="452.9" x2="552" y2="452.9" stroke="#000" stroke-width="1.4" />
<path d="M555,452.9 L549.2,450.8 L550.3,452.9 L549.2,455.0 Z" fill="#000"/>
<line x1="560.6" y1="345.5" x2="560.6" y2="427" stroke="#222" stroke-width="1.3" />
<path d="M560.8,342.3 L558.8,348.2 L560.8,347.0 L562.8,348.2 Z" fill="#111"/>
<text x="0" y="0" font-size="6.4" font-weight="normal" text-anchor="start" fill="#222" textLength="11.9" lengthAdjust="spacingAndGlyphs" transform="translate(563.0,442.0) rotate(-90)" >SSC</text>
<line x1="372.8" y1="470.6" x2="372.8" y2="612.4" stroke="#000" stroke-width="1.9" />
<line x1="368" y1="490.4" x2="373.1" y2="490.4" stroke="#000" stroke-width="1.6" />
<text x="363.6" y="493.59999999999997" font-size="9.0" font-weight="bold" text-anchor="end" fill="#000" textLength="9.2" lengthAdjust="spacingAndGlyphs" >30</text>
<line x1="368" y1="530.8" x2="373.1" y2="530.8" stroke="#000" stroke-width="1.6" />
<text x="363.6" y="534.0" font-size="9.0" font-weight="bold" text-anchor="end" fill="#000" textLength="9.2" lengthAdjust="spacingAndGlyphs" >20</text>
<line x1="368" y1="571.2" x2="373.1" y2="571.2" stroke="#000" stroke-width="1.6" />
<text x="363.6" y="574.4000000000001" font-size="9.0" font-weight="bold" text-anchor="end" fill="#000" textLength="9.2" lengthAdjust="spacingAndGlyphs" >10</text>
<line x1="368" y1="611.5" x2="373.1" y2="611.5" stroke="#000" stroke-width="1.6" />
<text x="363.6" y="614.7" font-size="9.0" font-weight="bold" text-anchor="end" fill="#000" >0</text>
<text x="0" y="0" font-size="10.2" font-weight="bold" text-anchor="start" fill="#000" textLength="132.5" lengthAdjust="spacingAndGlyphs" transform="translate(346.4,607.5) rotate(-90)" >% of Foxp3+ in CD4+CD3+</text>
<line x1="368" y1="611.5" x2="547" y2="611.5" stroke="#000" stroke-width="1.9" />
<line x1="393.7" y1="611.5" x2="393.7" y2="616.5" stroke="#000" stroke-width="1.8" />
<line x1="437.5" y1="611.5" x2="437.5" y2="616.5" stroke="#000" stroke-width="1.8" />
<line x1="481.6" y1="611.5" x2="481.6" y2="616.5" stroke="#000" stroke-width="1.8" />
<line x1="524.6" y1="611.5" x2="524.6" y2="616.5" stroke="#000" stroke-width="1.8" />
<line x1="386.04999999999995" y1="591.8" x2="386.04999999999995" y2="587.0" stroke="#000" stroke-width="1.4" />
<line x1="383.04999999999995" y1="587.6" x2="389.04999999999995" y2="587.6" stroke="#000" stroke-width="1.8" />
<rect x="379.9" y="591.8" width="12.300000000000011" height="18.800000000000068" fill="#000" stroke="none" stroke-width="0" />
<line x1="402.8" y1="549.0" x2="402.8" y2="536.7" stroke="#000" stroke-width="1.4" />
<line x1="399.8" y1="537.3000000000001" x2="405.8" y2="537.3000000000001" stroke="#000" stroke-width="1.8" />
<rect x="397.85" y="549.85" width="9.900000000000023" height="60.75000000000002" fill="url(#hB)" stroke="#000" stroke-width="1.7" />
<line x1="429.70000000000005" y1="542.7" x2="429.70000000000005" y2="518.9" stroke="#000" stroke-width="1.4" />
<line x1="426.70000000000005" y1="519.5" x2="432.70000000000005" y2="519.5" stroke="#000" stroke-width="1.8" />
<rect x="423.3" y="542.7" width="12.800000000000011" height="67.89999999999998" fill="#000" stroke="none" stroke-width="0" />
<line x1="446.1" y1="489.2" x2="446.1" y2="483.8" stroke="#000" stroke-width="1.4" />
<line x1="443.1" y1="484.4" x2="449.1" y2="484.4" stroke="#000" stroke-width="1.8" />
<rect x="440.75" y="490.05" width="10.700000000000035" height="120.55000000000004" fill="url(#hB)" stroke="#000" stroke-width="1.7" />
<line x1="473.6" y1="567.6" x2="473.6" y2="552.6" stroke="#000" stroke-width="1.4" />
<line x1="470.6" y1="553.2" x2="476.6" y2="553.2" stroke="#000" stroke-width="1.8" />
<rect x="467.2" y="567.6" width="12.800000000000011" height="43.0" fill="#000" stroke="none" stroke-width="0" />
<line x1="489.9" y1="547.4" x2="489.9" y2="534.1" stroke="#000" stroke-width="1.4" />
<line x1="486.9" y1="534.7" x2="492.9" y2="534.7" stroke="#000" stroke-width="1.8" />
<rect x="484.45000000000005" y="548.25" width="10.899999999999967" height="62.350000000000044" fill="url(#hB)" stroke="#000" stroke-width="1.7" />
<line x1="517.35" y1="596.5" x2="517.35" y2="593.6" stroke="#000" stroke-width="1.4" />
<line x1="514.35" y1="594.2" x2="520.35" y2="594.2" stroke="#000" stroke-width="1.8" />
<rect x="511.2" y="596.5" width="12.300000000000011" height="14.100000000000023" fill="#000" stroke="none" stroke-width="0" />
<line x1="533.5" y1="593.2" x2="533.5" y2="590.3" stroke="#000" stroke-width="1.4" />
<line x1="530.5" y1="590.9" x2="536.5" y2="590.9" stroke="#000" stroke-width="1.8" />
<rect x="528.35" y="594.0500000000001" width="10.3" height="16.549999999999976" fill="url(#hB)" stroke="#000" stroke-width="1.7" />
<text x="402.5" y="536.16" font-size="13.5" font-weight="normal" text-anchor="middle" fill="#000" >*</text>
<text x="446.4" y="483.06" font-size="13.5" font-weight="normal" text-anchor="middle" fill="#000" >*</text>
<rect x="472.3" y="488.2" width="14.2" height="10.2" fill="#000" stroke="none" stroke-width="0" />
<rect x="473.1" y="502.8" width="12.6" height="8.4" fill="url(#hL)" stroke="#000" stroke-width="1.6" />
<text x="495.6" y="497.8" font-size="11.5" font-weight="normal" text-anchor="start" fill="#111" textLength="24.5" lengthAdjust="spacingAndGlyphs" >PBS</text>
<text x="495.6" y="510.6" font-size="11.5" font-weight="normal" text-anchor="start" fill="#111" font-style="italic" textLength="63.5" lengthAdjust="spacingAndGlyphs" >L. johnsonii</text>
<text x="0" y="0" font-size="11" font-weight="bold" text-anchor="end" fill="#000" textLength="29" lengthAdjust="spacingAndGlyphs" transform="translate(399.8,623.8) rotate(-43)" >Lung</text>
<text x="0" y="0" font-size="11" font-weight="bold" text-anchor="end" fill="#000" textLength="34" lengthAdjust="spacingAndGlyphs" transform="translate(442.8,624.3) rotate(-43)" >Colon</text>
<text x="0" y="0" font-size="11" font-weight="bold" text-anchor="end" fill="#000" textLength="71" lengthAdjust="spacingAndGlyphs" transform="translate(487.0,624.0) rotate(-43)" >Peyer’s patch</text>
<text x="0" y="0" font-size="11" font-weight="bold" text-anchor="end" fill="#000" textLength="24" lengthAdjust="spacingAndGlyphs" transform="translate(529.8,623.6) rotate(-43)" >MLN</text>
</g></svg>
</body></html>
